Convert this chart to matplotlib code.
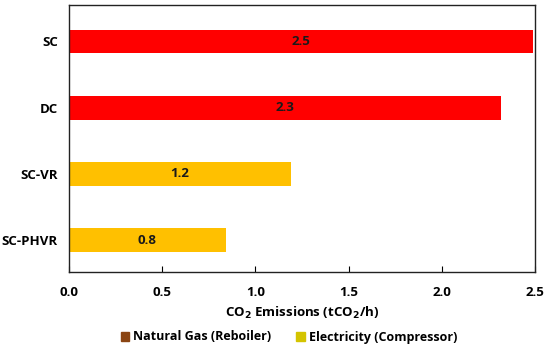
import numpy as np
import matplotlib.pyplot as plt
from matplotlib.patches import Patch

# ===================== Datos =====================
cases = ['SC', 'DC', 'SC-VR', 'SC-PHVR']
natural_gas = [2.49, 2.32, 0.0, 0.0]   # reboiler
electricity = [0.0, 0.0, 1.19, 0.84]   # compressor
labels = ['2.5', '2.3', '1.2', '0.8']

plt.rcParams['font.family'] = ['Open Sans', 'DejaVu Sans']
plt.rcParams['font.weight'] = 'bold'

fig = plt.figure(figsize=(5.5, 3.54), dpi=100)
ax = fig.add_axes([69 / 550, 1 - 272 / 354, (535 - 69) / 550, (272 - 5) / 354])

y = np.arange(len(cases))
ng = np.array(natural_gas)
el = np.array(electricity)

ax.barh(y, ng, height=0.36, color='#ff0000')
ax.barh(y, el, left=ng, height=0.36, color='#ffc000')

totals = ng + el
for yi, tot, lab in zip(y, totals, labels):
    ax.text(tot / 2, yi, lab, ha='center', va='center', fontsize=9.5,
            fontweight='bold', color='#1a1a1a')

ax.set_yticks(y)
ax.set_yticklabels(cases, fontsize=9.5, fontweight='bold')
ax.set_ylim(3.48, -0.55)
ax.set_xlim(0, 2.5)
ax.set_xticks([0, 0.5, 1.0, 1.5, 2.0, 2.5])
ax.set_xticklabels(['0.0', '0.5', '1.0', '1.5', '2.0', '2.5'], fontsize=9.5,
                   fontweight='bold')
ax.tick_params(axis='y', length=0, pad=8)
ax.tick_params(axis='x', direction='in', length=4, pad=10)
ax.set_xlabel('CO$_2$ Emissions (tCO$_2$/h)', fontsize=9.5, fontweight='bold',
              labelpad=4)
for s in ax.spines.values():
    s.set_linewidth(1.0)
    s.set_color('#222222')

handles = [Patch(color='#8b4513', label='Natural Gas (Reboiler)'),
           Patch(color='#d4c400', label='Electricity (Compressor)')]
fig.legend(handles=handles, loc='center', bbox_to_anchor=(0.525, 1 - 337 / 354),
           ncol=2, frameon=False, handlelength=0.7, handleheight=0.7,
           handletextpad=0.3, columnspacing=2.0, prop={'weight': 'bold', 'size': 9})

plt.savefig('out.png', dpi=100)
